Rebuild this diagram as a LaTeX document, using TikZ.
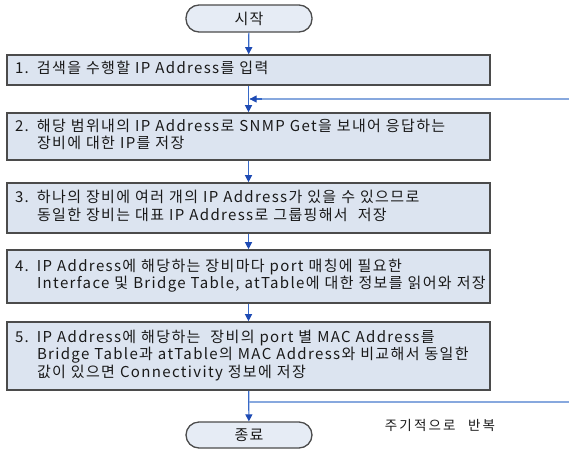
\documentclass[tikz,border=0pt]{standalone}
\usepackage{fontspec}
\setmainfont{Noto Sans CJK KR}[WordSpace=2.4, LetterSpace=9]
\newfontfamily\labelfont{Noto Sans CJK KR}[LetterSpace=16, WordSpace=2.4]
\usetikzlibrary{
    arrows.meta,
    positioning
}

\definecolor{boxfill}{RGB}{220,228,240}
\definecolor{termfill}{RGB}{230,236,245}
\definecolor{boxline}{RGB}{75,75,75}
\definecolor{flowblue}{RGB}{55,105,200}
\definecolor{tipblue}{RGB}{30,75,180}
\definecolor{loopblue}{RGB}{135,168,222}
\definecolor{textgray}{RGB}{25,25,25}

\newcommand{\steptext}[2]{\makebox[22pt][l]{#1}\begin{tabular}[t]{@{}l@{}}#2\end{tabular}}

\begin{document}
\begin{tikzpicture}[x=1pt, y=-1pt,
    stepbox/.style={draw=boxline, line width=1.6pt, fill=boxfill,
        minimum width=483pt, inner xsep=8pt, text width=467pt, align=left,
        text=textgray, font=\fontsize{15pt}{17pt}\selectfont},
    terminal/.style={draw=boxline, line width=1.3pt, fill=termfill,
        rounded corners=13pt, minimum width=126pt, text=textgray,
        font=\fontsize{15pt}{17pt}\selectfont},
    flow/.style={draw=flowblue, line width=1.2pt,
        -{Triangle[length=7pt, width=7pt, color=tipblue]}},
    loopline/.style={draw=loopblue, line width=1.2pt}
]

\useasboundingbox (0,0) rectangle (569,450);

% Start and end
\node[terminal, minimum height=27pt] (start) at (249,18.5) {시작};
\node[terminal, minimum height=26pt] (end) at (249,435) {종료};

% Steps
\node[stepbox, minimum height=30pt] (box1) at (248.5,70)
    {\steptext{1.}{검색을 수행할 IP Address를 입력}};
\node[stepbox, minimum height=47pt] (box2) at (248.5,136.5)
    {\steptext{2.}{해당 범위내의 IP Address로 SNMP Get을 보내어 응답하는\\장비에 대한 IP를 저장}};
\node[stepbox, minimum height=50pt] (box3) at (248.5,208)
    {\steptext{3.}{하나의 장비에 여러 개의 IP Address가 있을 수 있으므로\\동일한 장비는 대표 IP Address로 그룹핑해서 \ 저장}};
\node[stepbox, minimum height=53pt] (box4) at (248.5,276.5)
    {\steptext{4.}{IP Address에 해당하는 장비마다 port 매칭에 필요한\\Interface 및 Bridge Table, atTable에 대한 정보를 읽어와 저장}};
\node[stepbox, minimum height=68pt] (box5) at (248.5,356)
    {\steptext{5.}{IP Address에 해당하는 \ 장비의 port 별 MAC Address를\\Bridge Table과 atTable의 MAC Address와 비교해서 동일한\\값이 있으면 Connectivity 정보에 저장}};

% Flow
\draw[flow] (start) -- (box1);
\draw[flow] (box1) -- (box2);
\draw[flow] (box2) -- (box3);
\draw[flow] (box3) -- (box4);
\draw[flow] (box4) -- (box5);
\draw[flow] (box5) -- (end);

% Repeat loop
\coordinate (loopout) at (249,402);
\coordinate (loopin) at (249.6,99);
\coordinate (loopcornerB) at (575,402);
\coordinate (loopcornerT) at (575,99);
\draw[loopline] (loopout) -- (loopcornerB) -- (loopcornerT) -- (loopin);
\draw[flowblue, line width=1.2pt, -{Triangle[length=7pt, width=7pt, color=tipblue]}]
    (262,99) -- (loopin);
\node[text=textgray, font=\labelfont\fontsize{13.5pt}{15pt}\selectfont] (looplabel) at (440,425) {주기적으로 반복};

\end{tikzpicture}
\end{document}
